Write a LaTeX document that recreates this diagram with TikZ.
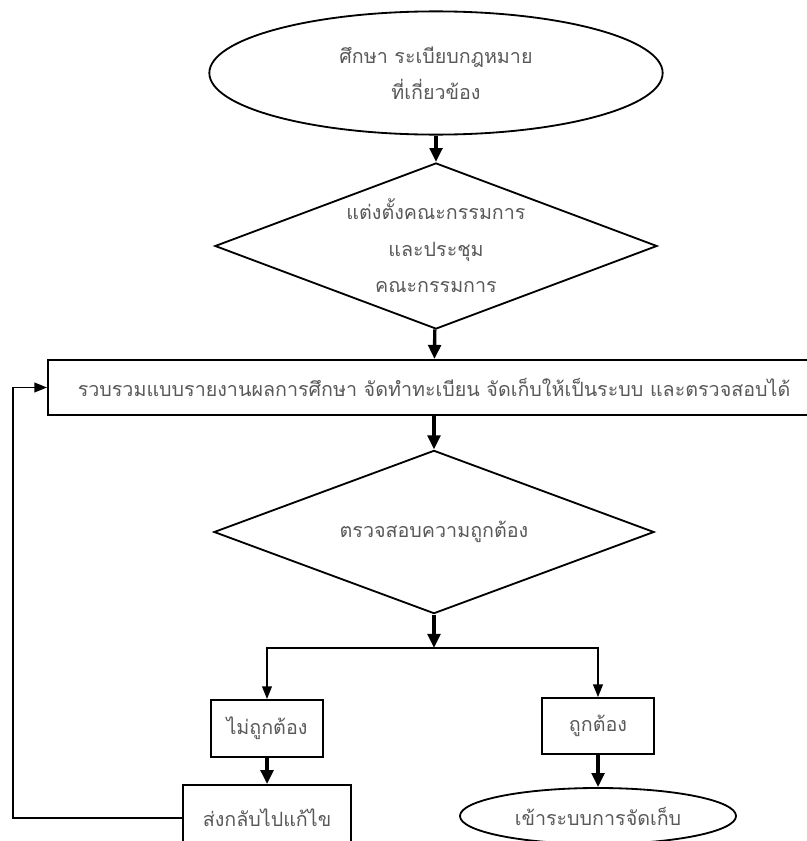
\documentclass[tikz,border=0pt]{standalone}
\usepackage{fontspec}
\newfontfamily\thaifont[Script=Thai]{Loma}
\usetikzlibrary{shapes.geometric,arrows.meta}
\tikzset{
  box/.style={draw, line width=1.3pt, rectangle, inner sep=0pt, align=center,
    text=black!65, font=\thaifont\fontsize{14}{26}\selectfont},
  term/.style={box, ellipse},
  decide/.style={box, diamond, aspect=2.66},
  flow/.style={line width=2.4pt, -{Triangle[length=10pt,width=9pt]}},
  branch/.style={line width=1pt, -{Triangle[length=9pt,width=7pt]}}
}
\begin{document}
\begin{tikzpicture}[x=0.025cm, y=-0.025cm]
\useasboundingbox (0,0) rectangle (807,841);
\node[term, minimum width=11.33cm, minimum height=3.08cm] (study) at (436,73) {ศึกษา ระเบียบกฎหมาย\\ที่เกี่ยวข้อง};
\node[decide, minimum width=11.05cm, minimum height=4.15cm] (appoint) at (436,246) {แต่งตั้งคณะกรรมการ\\และประชุม\\คณะกรรมการ};
\node[box, minimum width=19.3cm, minimum height=1.38cm] (collect) at (434,387.5) {รวบรวมแบบรายงานผลการศึกษา จัดทำทะเบียน จัดเก็บให้เป็นระบบ และตรวจสอบได้};
\node[decide, minimum width=11cm, minimum height=4.08cm] (check) at (434,532) {ตรวจสอบความถูกต้อง};
\coordinate (fork) at (434,648);
\node[box, minimum width=2.78cm, minimum height=1.43cm] (wrong) at (267,728.5) {ไม่ถูกต้อง};
\node[box, minimum width=2.78cm, minimum height=1.4cm] (right) at (598,726) {ถูกต้อง};
\node[box, minimum width=4.18cm, minimum height=1.65cm] (fix) at (267,818) {ส่งกลับไปแก้ไข};
\node[term, minimum width=6.9cm, minimum height=1.4cm] (store) at (598,816) {เข้าระบบการจัดเก็บ};
\coordinate (loop) at (13,815);
% main flow
\draw[flow] (study) -- (appoint);
\draw[flow] (appoint) -- (collect);
\draw[flow] (collect) -- (check);
\draw[flow] (check) -- (fork);
% branches
\draw[branch] (fork) -| (wrong);
\draw[branch] (fork) -| (right);
\draw[flow] (wrong) -- (fix);
\draw[flow] (right) -- (store);
% back to collect
\draw[branch] (fix.west) -- (fix.west -| loop) |- (collect);
\end{tikzpicture}
\end{document}
